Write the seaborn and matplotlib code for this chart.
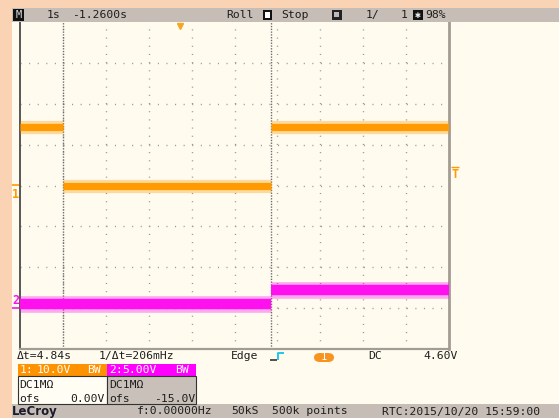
import matplotlib
matplotlib.use("Agg")
import matplotlib.pyplot as plt
from matplotlib.patches import Rectangle, FancyBboxPatch
from matplotlib.lines import Line2D
import numpy as np
import pandas as pd
import seaborn as sns

# ---- acquisition data -------------------------------------------------
# time is measured in seconds from the left edge of the screen (1 s/div)
ch1_edges = [0.0, 1.0, 5.84, 10.0]      # s
ch1_levels = [14.2, 0.0, 14.2]          # V
ch2_edges = [0.0, 5.84, 10.0]           # s
ch2_levels = [0.55, 2.2]                # V

ch1_scale, ch1_offset = 10.0, 0.0       # V/div, V
ch2_scale, ch2_offset = 5.0, -15.0      # V/div, V
trigger_level = 4.60                    # V (channel 1)
trigger_time = 3.74                     # s
cursor_times = [1.0, 5.84]              # s  (dt = 4.84 s)

W, H = 559, 418
sns.set_style("white")
plt.rcParams["font.family"] = ["DejaVu Sans Mono", "DejaVu Sans"]

PEACH = "#F9D3B4"
CREAM = "#FFFCEF"
BAR = "#C6BEB6"
ORANGE = "#FF9A00"
MAGENTA = "#FF10EE"
INK = "#1E1E1E"


def fx(x):
    return x / W


def fy(y):
    return 1 - y / H


fig = plt.figure(figsize=(W / 100, H / 100), dpi=100, facecolor=PEACH)


def rect(x0, y0, x1, y1, color, ec="none", lw=0.0, z=0):
    fig.add_artist(Rectangle((fx(x0), fy(y1)), (x1 - x0) / W, (y1 - y0) / H,
                             transform=fig.transFigure, facecolor=color,
                             edgecolor=ec, linewidth=lw, zorder=z))


def txt(x, y, s, color=INK, ha="left", size=8.2, **kw):
    fig.text(fx(x), fy(y), s, color=color, ha=ha, va="center",
             fontsize=size, zorder=5, **kw)


def seg(xs, ys, color, lw=1.0, z=4):
    fig.add_artist(Line2D([fx(v) for v in xs], [fy(v) for v in ys],
                          transform=fig.transFigure, color=color, lw=lw,
                          zorder=z, solid_capstyle="butt"))


# screen background, header and status bars
rect(12, 8, W, H, CREAM)
rect(12, 8, W, 22, BAR, z=1)
rect(12, 404, W, H, BAR, z=1)

# ---- graticule --------------------------------------------------------
ax = fig.add_axes([fx(20), fy(349), (449 - 20) / W, (349 - 22) / H])
ax.set_facecolor(CREAM)
ax.set_xlim(0, 10)
ax.set_ylim(-4, 4)
ax.set_xticks([])
ax.set_yticks([])
for side in ("top",):
    ax.spines[side].set_visible(False)
ax.spines["left"].set_color("#4A4A4A")
ax.spines["left"].set_linewidth(1.3)
ax.spines["right"].set_color("#A29C94")
ax.spines["right"].set_linewidth(2.0)
ax.spines["bottom"].set_color("#A29C94")
ax.spines["bottom"].set_linewidth(1.6)

for gx in range(1, 10):
    ax.axvline(gx, color="#9A9A9A", lw=1.0, linestyle=(0, (0.8, 5.09)), zorder=1)
for gy in range(-3, 4):
    ax.axhline(gy, color="#9A9A9A", lw=1.0, linestyle=(0, (0.8, 5.38)), zorder=1)

# measurement cursors
for ct in cursor_times:
    ax.axvline(ct, color="#6E6E6E", lw=1.0, linestyle=(0, (1.0, 1.0)), zorder=2)


def to_div(v, scale, offset):
    return (v + offset) / scale


def trace_frame(edges, levels, scale, offset):
    rows = []
    for i, lev in enumerate(levels):
        for t in (edges[i], edges[i + 1]):
            rows.append({"time": t, "div": to_div(lev, scale, offset), "segment": i})
    return pd.DataFrame(rows)


df1 = trace_frame(ch1_edges, ch1_levels, ch1_scale, ch1_offset)
df2 = trace_frame(ch2_edges, ch2_levels, ch2_scale, ch2_offset)

for df, col, core, halo in ((df1, ORANGE, 5.2, 9.5), (df2, MAGENTA, 7.5, 12.0)):
    sns.lineplot(data=df, x="time", y="div", units="segment", estimator=None,
                 color=col, lw=halo, alpha=0.35, ax=ax, legend=False,
                 solid_capstyle="butt", zorder=3)
    sns.lineplot(data=df, x="time", y="div", units="segment", estimator=None,
                 color=col, lw=core, ax=ax, legend=False,
                 solid_capstyle="butt", zorder=4)
ax.set_xlabel("")
ax.set_ylabel("")

# trigger time marker at the top of the grid
ax.plot([trigger_time], [3.9], marker="v", ms=5, color="#F5A623",
        clip_on=False, zorder=6)

# ---- channel ground markers and trigger level -------------------------
y1 = 185.5 - to_div(0.0, ch1_scale, ch1_offset) * 40.875
seg([12, 19], [y1, y1], ORANGE, lw=1.2)
txt(15.5, 195, "1", color=ORANGE, ha="center", size=8.5, fontweight="bold")
y2 = 185.5 - to_div(0.0, ch2_scale, ch2_offset) * 40.875
seg([12, 19], [y2, y2], MAGENTA, lw=1.2)
txt(15.5, 301, "2", color=MAGENTA, ha="center", size=8.5, fontweight="bold")
yt = 185.5 - to_div(trigger_level, ch1_scale, ch1_offset) * 40.875
seg([451, 459], [yt, yt], ORANGE, lw=1.0)
txt(455, yt + 7.5, "T", color=ORANGE, ha="center", size=8.5, fontweight="bold")

# ---- header bar -------------------------------------------------------
rect(13, 9, 24, 21, "#111111", z=3)
txt(18.5, 15, "M", color="#DDDDDD", ha="center", size=7.5)
txt(47, 15, "1s")
txt(72, 15, "-1.2600s")
txt(226, 15, "Roll")
rect(263, 10, 272, 20, "#111111", z=3)
rect(265, 12, 270, 18, "#FFFFFF", z=4)
txt(281, 15, "Stop")
rect(332, 10, 342, 20, "#222222", z=3)
rect(334, 12, 339, 17, "#BBBBBB", z=4)
txt(366, 15, "1/")
txt(401, 15, "1")
rect(413, 10, 423, 20, "#111111", z=3)
txt(418, 15, "✱", color="#EEEEEE", ha="center", size=7)
txt(425, 15, "98%")

# ---- measurement line -------------------------------------------------
txt(17, 356, "Δt=4.84s")
txt(99, 356, "1/Δt=206mHz")
txt(231, 356, "Edge")
seg([270, 277], [359.5, 359.5], "#333333", lw=1.2)
seg([277.5, 277.5, 284], [359.5, 352.5, 352.5], "#22C8E8", lw=1.4)
fig.add_artist(FancyBboxPatch((fx(314), fy(362)), (334 - 314) / W, (362 - 353) / H,
                              boxstyle="round,pad=0,rounding_size=0.011",
                              transform=fig.transFigure, facecolor="#F7931E",
                              edgecolor="none", zorder=3))
txt(324, 357.5, "1", color="white", ha="center", size=7.5)
txt(368, 356, "DC")
txt(423, 356, "4.60V")

# ---- channel descriptor boxes -----------------------------------------
rect(18, 364, 107, 376, "#FF9200", z=2)
rect(107, 364, 196, 376, "#FF00FF", z=2)
rect(18, 376, 107, 404, "#FFFDF4", ec="#333333", lw=0.8, z=2)
rect(107, 376, 196, 404, "#C9C1B9", ec="#333333", lw=0.8, z=2)
txt(20, 370, "1:", color="white")
txt(37, 370, "10.0V", color="white")
txt(87, 370, "BW", color="white")
txt(109, 370, "2:", color="white")
txt(122, 370, "5.00V", color="white")
txt(175, 370, "BW", color="white")
txt(19, 385, "DC1MΩ")
txt(19, 399, "ofs")
txt(105, 399, "0.00V", ha="right")
txt(109, 385, "DC1MΩ")
txt(109, 399, "ofs")
txt(195, 399, "-15.0V", ha="right")

# ---- status bar -------------------------------------------------------
txt(12, 411.5, "LeCroy", size=8.5, fontweight="bold",
    family=["DejaVu Sans"], color="#1A1A2A")
txt(137, 411.5, "f:0.00000Hz")
txt(231, 411.5, "50kS")
txt(272, 411.5, "500k points")
txt(382, 411.5, "RTC:2015/10/20 15:59:00")

fig.savefig("out.png", dpi=100, facecolor=PEACH)
